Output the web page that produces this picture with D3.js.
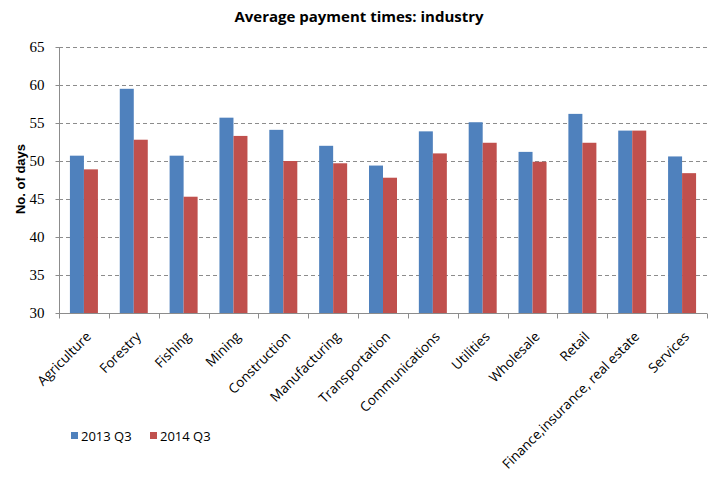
<!DOCTYPE html>
<html>
<head>
<title>Average payment times: industry</title>
<script src="https://d3js.org/d3.v7.min.js"></script>
<style>
body { margin: 0; background: #fff; }
</style>
</head>
<body>
<script>

var categories = ["Agriculture", "Forestry", "Fishing", "Mining", "Construction", "Manufacturing",
	"Transportation", "Communications", "Utilities", "Wholesale", "Retail",
	"Finance,insurance, real estate", "Services"];
var series2013 = [50.7, 59.5, 50.7, 55.7, 54.1, 52.0, 49.4, 53.9, 55.1, 51.2, 56.2, 54.0, 50.6];
var series2014 = [48.9, 52.8, 45.3, 53.3, 50.0, 49.7, 47.8, 51.0, 52.4, 49.9, 52.4, 54.0, 48.4];
var seriesNames = ["2013 Q3", "2014 Q3"];
var yTicks = [30, 35, 40, 45, 50, 55, 60, 65];

var W = 728, H = 489;
var plotLeft = 59, plotRight = 707, plotTop = 47, plotBottom = 313;
var blue = "#4f81bd", red = "#c0504d";

var svg = d3.select("body").append("svg")
	.attr("width", W)
	.attr("height", H);

var x = d3.scaleBand()
	.domain(categories)
	.range([plotLeft, plotRight]);

var y = d3.scaleLinear()
	.domain([30, 65])
	.range([plotBottom, plotTop]);

var barW = 14;

// gridlines
svg.append("g")
	.selectAll("line")
	.data(yTicks.slice(1))
	.enter()
	.append("line")
	.attr("x1", plotLeft)
	.attr("x2", plotRight)
	.attr("y1", function(d){ return Math.round(y(d)) + 0.5; })
	.attr("y2", function(d){ return Math.round(y(d)) + 0.5; })
	.attr("stroke", "#8c8c8c")
	.attr("stroke-width", 1)
	.attr("stroke-dasharray", "4,3");

var groups = svg.append("g")
	.selectAll("g")
	.data(categories)
	.enter()
	.append("g");

groups.append("rect")
	.attr("x", function(d){ return x(d) + x.bandwidth()/2 - barW; })
	.attr("y", function(d, i){ return y(series2013[i]); })
	.attr("width", barW)
	.attr("height", function(d, i){ return y(30) - y(series2013[i]); })
	.attr("fill", blue);

groups.append("rect")
	.attr("x", function(d){ return x(d) + x.bandwidth()/2; })
	.attr("y", function(d, i){ return y(series2014[i]); })
	.attr("width", barW)
	.attr("height", function(d, i){ return y(30) - y(series2014[i]); })
	.attr("fill", red);

// y axis
var yAxis = svg.append("g")
	.attr("transform", "translate(" + (plotLeft + 0.5) + ",0)")
	.call(d3.axisLeft(y).tickValues(yTicks).tickSize(4).tickPadding(11));
yAxis.select(".domain").attr("stroke", "#8c8c8c").attr("d", "M0," + plotTop + "V" + plotBottom);
yAxis.selectAll(".tick line").attr("stroke", "#8c8c8c");
yAxis.selectAll("text")
	.attr("font-family", "'Liberation Serif', serif")
	.attr("font-size", 15)
	.attr("fill", "#000");

// x axis
var xAxis = svg.append("g")
	.attr("transform", "translate(0," + (plotBottom + 0.5) + ")");
xAxis.append("line")
	.attr("x1", plotLeft)
	.attr("x2", plotRight)
	.attr("stroke", "#8c8c8c");
xAxis.selectAll(".xt")
	.data(categories.concat(["end"]))
	.enter()
	.append("line")
	.attr("x1", function(d, i){ return Math.round(plotLeft + i * x.step()) + 0.5; })
	.attr("x2", function(d, i){ return Math.round(plotLeft + i * x.step()) + 0.5; })
	.attr("y1", 0)
	.attr("y2", 5)
	.attr("stroke", "#8c8c8c");
xAxis.selectAll("text")
	.data(categories)
	.enter()
	.append("text")
	.attr("transform", function(d){
		return "translate(" + (x(d) + x.bandwidth()/2 + 8) + ",24) rotate(-45)";
	})
	.attr("text-anchor", "end")
	.attr("font-family", "'Open Sans', sans-serif")
	.attr("font-size", 13.5)
	.attr("fill", "#000")
	.text(function(d){ return d; });

// title
svg.append("text")
	.attr("x", 359)
	.attr("y", 22)
	.attr("text-anchor", "middle")
	.attr("font-family", "'Open Sans', sans-serif")
	.attr("font-weight", "bold")
	.attr("font-size", 15)
	.text("Average payment times: industry");

// y label
svg.append("text")
	.attr("transform", "translate(25," + ((plotTop + plotBottom)/2 - 1) + ") rotate(-90)")
	.attr("text-anchor", "middle")
	.attr("font-family", "'Liberation Sans', sans-serif")
	.attr("font-weight", "bold")
	.attr("font-size", 13)
	.text("No. of days");

// legend
var legend = svg.append("g")
	.attr("transform", "translate(71,436)");
var lg = legend.selectAll("g")
	.data(seriesNames)
	.enter()
	.append("g")
	.attr("transform", function(d, i){ return "translate(" + (i * 79) + ",0)"; });
lg.append("rect")
	.attr("x", 0)
	.attr("y", -4)
	.attr("width", 7)
	.attr("height", 7)
	.attr("fill", function(d, i){ return i === 0 ? blue : red; });
lg.append("text")
	.attr("x", 10)
	.attr("y", 5)
	.attr("font-family", "'Open Sans', sans-serif")
	.attr("font-size", 13)
	.text(function(d){ return d; });

</script>
</body>
</html>
